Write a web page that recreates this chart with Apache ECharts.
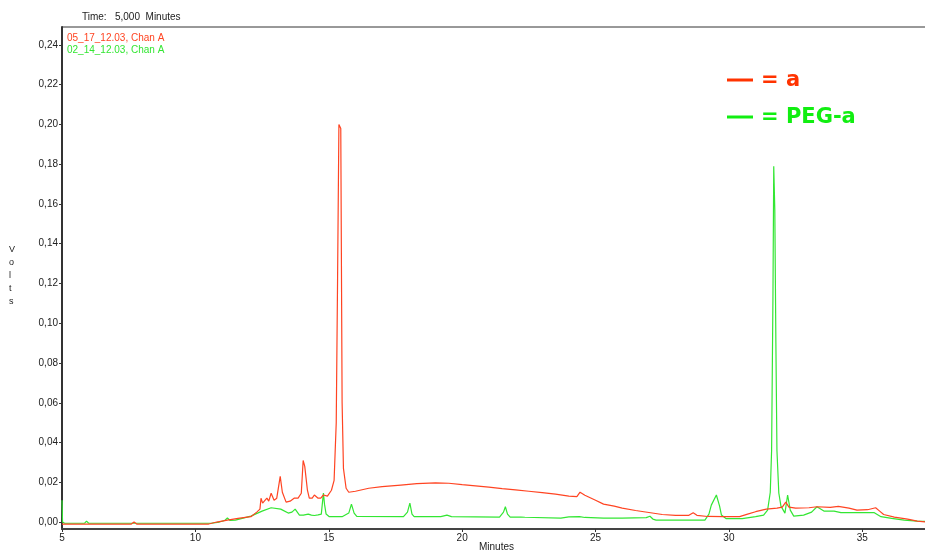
<!DOCTYPE html>
<html>
<head>
<meta charset="utf-8">
<script src="https://cdn.jsdelivr.net/npm/echarts@6/dist/echarts.min.js"></script>
<style>
html, body { margin: 0; padding: 0; background: #fff; }
#chart { width: 925px; height: 550px; }
</style>
</head>
<body>
<div id="chart"></div>
<script>
// tick labels
var xTicks = [5, 10, 15, 20, 25, 30, 35];
var yTicks = [0, 0.02, 0.04, 0.06, 0.08, 0.10, 0.12, 0.14, 0.16, 0.18, 0.20, 0.22, 0.24];

// run 05_17_12.03 (a)
var redTime = [5.0, 6.0, 7.6, 7.7, 7.8, 10.5, 10.8, 11.2, 11.6, 12.08, 12.3, 12.42, 12.46, 12.52, 12.58, 12.68, 12.75, 12.84, 12.95, 13.05,
	13.18, 13.26, 13.4, 13.55, 13.7, 13.85, 13.97, 14.04, 14.1, 14.2, 14.27, 14.38, 14.46, 14.6, 14.7, 14.8, 14.95, 15.1, 15.2, 15.28,
	15.33, 15.38, 15.45, 15.5, 15.55, 15.65, 15.75, 16.0, 16.5, 17.0, 17.7, 18.3, 19.0, 19.5, 20.0, 20.5, 21.0, 21.5, 22.0, 22.5,
	23.0, 23.5, 24.0, 24.3, 24.42, 24.6, 25.0, 25.3, 25.7, 26.0, 26.5, 27.0, 27.5, 28.0, 28.5, 28.66, 28.8, 29.2, 29.8, 30.4,
	30.7, 31.0, 31.4, 31.8, 32.0, 32.13, 32.25, 32.5, 33.0, 33.3, 33.8, 34.1, 34.5, 34.8, 35.2, 35.5, 35.65, 35.8, 36.2, 36.7,
	37.06, 37.5];
var redVolts = [-0.001, -0.001, -0.001, 0.0, -0.001, -0.001, 0.0, 0.001, 0.0018, 0.0027, 0.005, 0.0065, 0.012, 0.0095, 0.0085, 0.012, 0.0105, 0.0145, 0.011, 0.012,
	0.023, 0.015, 0.010, 0.0105, 0.012, 0.012, 0.0145, 0.031, 0.028, 0.016, 0.012, 0.012, 0.0136, 0.012, 0.012, 0.0136, 0.013, 0.016, 0.021, 0.05,
	0.122, 0.200, 0.198, 0.06, 0.027, 0.017, 0.015, 0.0155, 0.017, 0.0178, 0.0186, 0.0193, 0.0197, 0.0195, 0.0188, 0.0182, 0.0176, 0.0168, 0.0162, 0.0155,
	0.0148, 0.014, 0.013, 0.0128, 0.015, 0.0135, 0.011, 0.009, 0.008, 0.007, 0.0058, 0.0048, 0.0038, 0.0034, 0.0034, 0.0047, 0.0034, 0.0028, 0.0027, 0.0027,
	0.004, 0.0052, 0.0065, 0.007, 0.0075, 0.010, 0.0075, 0.007, 0.0072, 0.0077, 0.0074, 0.0079, 0.007, 0.006, 0.0062, 0.0072, 0.0055, 0.0038, 0.0025, 0.0015,
	0.0005, -0.0002];

// run 02_14_12.03 (PEG-a)
var greenTime = [5.0, 5.02, 5.1, 5.85, 5.92, 6.0, 10.6, 10.9, 11.1, 11.2, 11.3, 11.5, 12.08, 12.5, 12.84, 13.2, 13.48, 13.62, 13.74, 13.9,
	14.05, 14.23, 14.35, 14.46, 14.6, 14.72, 14.78, 14.8, 14.84, 14.9, 15.02, 15.5, 15.75, 15.85, 15.95, 16.05, 17.8, 17.95, 18.04, 18.12,
	18.2, 19.2, 19.43, 19.6, 21.4, 21.55, 21.62, 21.7, 21.8, 22.2, 22.26, 22.35, 23.7, 24.0, 24.4, 24.6, 25.3, 26.0, 26.9, 27.04,
	27.15, 27.27, 29.1, 29.25, 29.34, 29.53, 29.65, 29.72, 29.9, 30.5, 31.0, 31.3, 31.45, 31.55, 31.6, 31.65, 31.68, 31.72, 31.76, 31.8,
	31.87, 31.95, 32.1, 32.2, 32.3, 32.43, 32.8, 33.1, 33.3, 33.56, 33.94, 34.2, 34.8, 35.45, 35.7, 36.1, 36.57, 37.06, 37.5];
var greenVolts = [0.011, 0.0, -0.0006, -0.0006, 0.0005, -0.0006, -0.0006, 0.0, 0.0008, 0.002, 0.0008, 0.001, 0.003, 0.0055, 0.0072, 0.0065, 0.0045, 0.005, 0.0065, 0.0035,
	0.0035, 0.004, 0.0035, 0.0033, 0.0036, 0.004, 0.012, 0.0146, 0.009, 0.004, 0.0027, 0.0027, 0.0045, 0.009, 0.0045, 0.0028, 0.0027, 0.005, 0.0095, 0.004,
	0.0027, 0.0027, 0.0035, 0.0027, 0.0025, 0.005, 0.0077, 0.004, 0.0025, 0.0025, 0.0029, 0.0024, 0.002, 0.0026, 0.0027, 0.0023, 0.002, 0.002, 0.0022, 0.0029,
	0.0015, 0.001, 0.001, 0.004, 0.0085, 0.0136, 0.008, 0.0035, 0.0017, 0.0017, 0.0027, 0.0035, 0.006, 0.015, 0.036, 0.113, 0.179, 0.157, 0.09, 0.036,
	0.0146, 0.008, 0.0045, 0.0136, 0.006, 0.003, 0.0035, 0.005, 0.0077, 0.0055, 0.0055, 0.0047, 0.0047, 0.0047, 0.0027, 0.0018, 0.001, 0.0005, 0.0002];

var redColor = '#ff4422';
var greenColor = '#33e633';
var font = 'Liberation Sans';

function pairs(xs, ys) {
	var out = [];
	for (var i = 0; i < xs.length; i++) {
		out.push([xs[i], ys[i]]);
	}
	return out;
}

var chart = echarts.init(document.getElementById('chart'));
var option = {
	animation : false,
	grid : {
		left : 62,
		top : 27,
		right : -4,
		bottom : 21,
		outerBoundsMode : 'none',
		containLabel : false,
		show : true,
		borderColor : '#333',
		borderWidth : 1
	},
	xAxis : {
		type : 'value',
		min : 5,
		max : 37.5,
		splitLine : { show : false },
		axisLine : { onZero : false, lineStyle : { color : '#444', width : 2 } },
		axisTick : { customValues : xTicks, length : 3, lineStyle : { color : '#333' } },
		axisLabel : {
			customValues : xTicks,
			fontFamily : font,
			fontSize : 10,
			color : '#222',
			margin : 4
		}
	},
	yAxis : {
		type : 'value',
		min : -0.0035,
		max : 0.249,
		splitLine : { show : false },
		axisLine : { show : true, onZero : false, lineStyle : { color : '#333', width : 2 } },
		axisTick : { show : true, customValues : yTicks, length : 3, lineStyle : { color : '#333' } },
		axisLabel : {
			customValues : yTicks,
			fontFamily : font,
			fontSize : 10,
			color : '#222',
			margin : 4,
			formatter : function(v) {
				return v.toFixed(2).replace('.', ',');
			}
		}
	},
	graphic : [
		{ type : 'text', left : 82, top : 12, style : { text : 'Time:   5,000  Minutes', fontFamily : font, fontSize : 10, fill : '#222' } },
		{ type : 'text', left : 67, top : 33, style : { text : '05_17_12.03, Chan A', fontFamily : font, fontSize : 10, fill : redColor } },
		{ type : 'text', left : 67, top : 45, style : { text : '02_14_12.03, Chan A', fontFamily : font, fontSize : 10, fill : greenColor } },
		{ type : 'text', left : 9, top : 243, style : { text : 'V\no\nl\nt\ns', fontFamily : font, fontSize : 9, lineHeight : 13, fill : '#222', align : 'center' } },
		{ type : 'text', left : 479, top : 542, style : { text : 'Minutes', fontFamily : font, fontSize : 10, fill : '#222' } },
		{ type : 'line', shape : { x1 : 727, y1 : 80, x2 : 753, y2 : 80 }, style : { stroke : '#ff3300', lineWidth : 3 } },
		{ type : 'text', left : 761, top : 70, style : { text : '= a', fontFamily : 'DejaVu Sans', fontSize : 21, fontWeight : 'bold', fill : '#ff3300' } },
		{ type : 'line', shape : { x1 : 727, y1 : 117, x2 : 753, y2 : 117 }, style : { stroke : '#11ee11', lineWidth : 3 } },
		{ type : 'text', left : 761, top : 107, style : { text : '= PEG-a', fontFamily : 'DejaVu Sans', fontSize : 21, fontWeight : 'bold', fill : '#11ee11' } }
	],
	series : [ {
		name : 'a',
		type : 'line',
		data : pairs(redTime, redVolts),
		showSymbol : false,
		symbol : 'none',
		lineStyle : { color : redColor, width : 1.2 },
		z : 3
	}, {
		name : 'PEG-a',
		type : 'line',
		data : pairs(greenTime, greenVolts),
		showSymbol : false,
		symbol : 'none',
		lineStyle : { color : greenColor, width : 1.2 },
		z : 2
	} ]
};
chart.setOption(option);
</script>
</body>
</html>
